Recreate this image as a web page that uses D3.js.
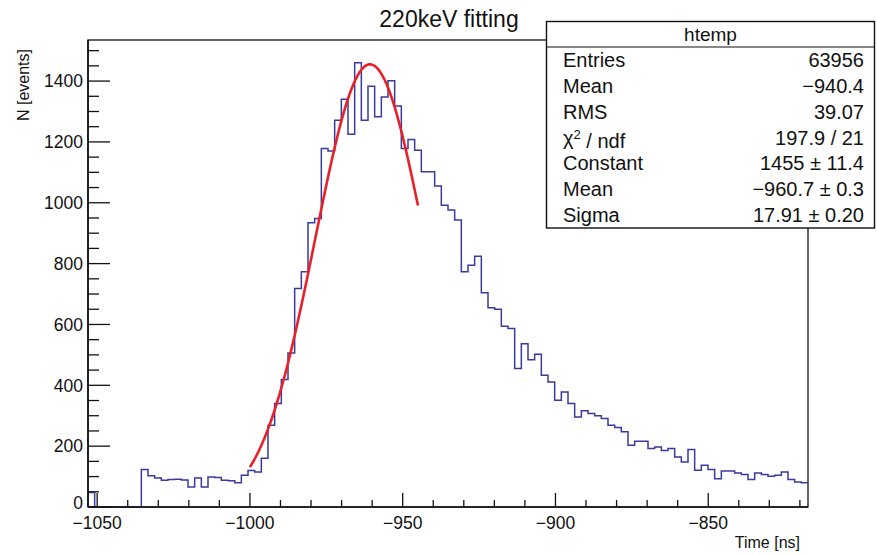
<!DOCTYPE html>
<html>
<head>
<meta charset="utf-8">
<script src="https://cdn.jsdelivr.net/npm/d3@7"></script>
<style>
  body { margin: 0; background: #fff; }
  text { font-family: "Liberation Sans", Arial, Helvetica, sans-serif; fill: #111; }
</style>
</head>
<body>
<div id="vis1"></div>
<script>
// histogram of Time [ns], 108 bins
let binStart = -1053.0
let binWidth = 2.182
let counts = [
  48, 0, 0, 0, 0, 0, 0, 0, 123, 103,
  95, 88, 90, 91, 89, 66, 95, 66, 99, 97,
  88, 86, 80, 104, 120, 115, 160, 269, 340, 419,
  506, 718, 773, 934, 948, 1178, 1170, 1271, 1340, 1225,
  1460, 1271, 1383, 1283, 1348, 1401, 1318, 1178, 1208, 1173,
  1102, 1102, 1055, 992, 976, 943, 773, 795, 824, 704,
  655, 650, 594, 587, 455, 537, 484, 502, 433, 411,
  351, 378, 340, 296, 316, 307, 300, 291, 269, 261,
  247, 203, 216, 216, 192, 197, 186, 192, 164, 148,
  189, 121, 137, 123, 93, 118, 118, 112, 107, 90,
  112, 107, 101, 104, 115, 90, 82, 80
]

// gaussian fit (parameters from the stats box), fit range
let fitConstant = 1455
let fitMean = -960.7
let fitSigma = 17.91
let fitRange = [-1000, -945]

let xTicks = [-1050, -1000, -950, -900, -850]
let yTicks = [0, 200, 400, 600, 800, 1000, 1200, 1400]

let statsLabels = ['Entries', 'Mean', 'RMS', 'chi2', 'Constant', 'Mean', 'Sigma']
let statsValues = ['63956', '\u2212940.4', '39.07', '197.9 / 21', '1455 \u00b1 11.4', '\u2212960.7 \u00b1 0.3', '17.91 \u00b1 0.20']

let W = 877, H = 555
let margin = { top: 40, left: 88, right: 69, bottom: 48 }
let width = W - margin.left - margin.right,
  height = H - margin.top - margin.bottom

let svg = d3.select('#vis1')
  .append('svg')
  .attr('width', W)
  .attr('height', H)
  .attr('viewBox', [0, 0, W, H].join(' '))

let x = d3.scaleLinear()
  .domain([binStart, binStart + binWidth * counts.length])
  .range([margin.left, margin.left + width])

let y = d3.scaleLinear()
  .domain([0, 1535])
  .range([margin.top + height, margin.top])

// frame
svg.append('rect')
  .attr('x', margin.left)
  .attr('y', margin.top)
  .attr('width', width)
  .attr('height', height)
  .attr('fill', 'none')
  .attr('stroke', '#111')
  .attr('stroke-width', 1.3)

// histogram outline
let path = d3.path()
path.moveTo(x(binStart), y(0))
counts.forEach(function(c, i) {
  path.lineTo(x(binStart + i * binWidth), y(c))
  path.lineTo(x(binStart + (i + 1) * binWidth), y(c))
})
svg.append('path')
  .attr('d', path.toString())
  .attr('fill', 'none')
  .attr('stroke', '#3a3a9c')
  .attr('stroke-width', 1.5)

// fit curve
let gaus = function(t) {
  return fitConstant * Math.exp(-0.5 * Math.pow((t - fitMean) / fitSigma, 2))
}
let fitX = d3.range(fitRange[0], fitRange[1] + 0.01, 0.5)
svg.append('path')
  .datum(fitX)
  .attr('d', d3.line().x(d => x(d)).y(d => y(gaus(d))))
  .attr('fill', 'none')
  .attr('stroke', '#e8202a')
  .attr('stroke-width', 2.6)

// x axis: major ticks every 50, minor every 10
let xAxis = svg.append('g')
  .attr('transform', 'translate(0,' + (margin.top + height) + ')')
xAxis.append('line')
  .attr('x1', margin.left).attr('x2', margin.left + width)
  .attr('stroke', '#111').attr('stroke-width', 1.6)
let xMinor = d3.range(-1050, -815, 10)
xAxis.selectAll('.xminor')
  .data(xMinor)
  .enter().append('line')
  .attr('x1', d => x(d)).attr('x2', d => x(d))
  .attr('y1', 0)
  .attr('y2', d => xTicks.includes(d) ? -14 : -7)
  .attr('stroke', '#111').attr('stroke-width', 1.3)
xAxis.selectAll('.xlab')
  .data(xTicks)
  .enter().append('text')
  .attr('x', d => x(d))
  .attr('y', 22)
  .attr('text-anchor', 'middle')
  .style('font-size', '17.5px')
  .text(d => d3.format('d')(d))

// y axis: major ticks every 200, minor every 50
let yAxis = svg.append('g')
  .attr('transform', 'translate(' + margin.left + ',0)')
yAxis.append('line')
  .attr('y1', margin.top).attr('y2', margin.top + height)
  .attr('stroke', '#111').attr('stroke-width', 1.6)
let yMinor = d3.range(0, 1535, 50)
yAxis.selectAll('.yminor')
  .data(yMinor)
  .enter().append('line')
  .attr('y1', d => y(d)).attr('y2', d => y(d))
  .attr('x1', 0)
  .attr('x2', d => d % 200 === 0 ? 22 : 11)
  .attr('stroke', '#111').attr('stroke-width', 1.3)
yAxis.selectAll('.ylab')
  .data(yTicks)
  .enter().append('text')
  .attr('x', -5)
  .attr('y', d => d === 0 ? y(d) - 4 : y(d))
  .attr('dy', '0.36em')
  .attr('text-anchor', 'end')
  .style('font-size', '17.5px')
  .text(d => d)

// axis titles
svg.append('text')
  .attr('x', 800)
  .attr('y', 548)
  .attr('text-anchor', 'end')
  .style('font-size', '16px')
  .text('Time [ns]')

svg.append('text')
  .attr('transform', 'translate(29,49) rotate(-90)')
  .attr('text-anchor', 'end')
  .style('font-size', '16px')
  .text('N [events]')

// title
svg.append('text')
  .attr('x', 449)
  .attr('y', 27)
  .attr('text-anchor', 'middle')
  .style('font-size', '23px')
  .text('220keV fitting')

// stats box
let box = { x: 546.5, y: 21.5, w: 328, h: 206.5, head: 25.5 }
svg.append('rect')
  .attr('x', box.x).attr('y', box.y)
  .attr('width', box.w).attr('height', box.h)
  .attr('fill', '#fff')
  .attr('stroke', '#111').attr('stroke-width', 1.4)
svg.append('line')
  .attr('x1', box.x).attr('x2', box.x + box.w)
  .attr('y1', box.y + box.head).attr('y2', box.y + box.head)
  .attr('stroke', '#111').attr('stroke-width', 1.2)
svg.append('text')
  .attr('x', box.x + box.w / 2)
  .attr('y', box.y + box.head / 2)
  .attr('dy', '0.36em')
  .attr('text-anchor', 'middle')
  .style('font-size', '19px')
  .text('htemp')

let rowH = 25.8
statsLabels.forEach(function(lab, i) {
  let cy = 60 + i * rowH
  let t = svg.append('text')
    .attr('x', 563)
    .attr('y', cy)
    .attr('dy', '0.36em')
    .style('font-size', '20px')
  if (lab === 'chi2') {
    t.append('tspan').text('\u03c7')
    t.append('tspan').attr('dy', '-0.45em').style('font-size', '13px').text('2')
    t.append('tspan').attr('dy', '0.45em').text(' / ndf')
  } else {
    t.text(lab)
  }
  svg.append('text')
    .attr('x', 864)
    .attr('y', cy)
    .attr('dy', '0.36em')
    .attr('text-anchor', 'end')
    .style('font-size', '20px')
    .text(statsValues[i])
})
</script>
</body>
</html>
